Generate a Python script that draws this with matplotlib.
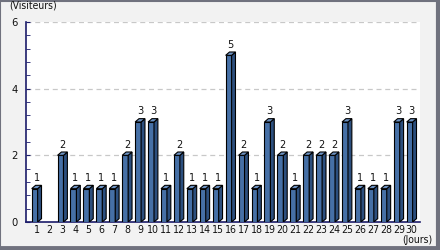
import matplotlib
matplotlib.use("Agg")
import matplotlib.pyplot as plt
from matplotlib.patches import Polygon, Rectangle
from matplotlib.lines import Line2D

days = list(range(1, 31))
visitors = [1, 0, 2, 1, 1, 1, 1, 2, 3, 3, 1, 2, 1, 1, 1, 5, 2, 1, 3, 2,
            1, 2, 2, 2, 3, 1, 1, 1, 3, 3]
y_ticks = [0, 2, 4, 6]

front_col = "#4670a6"
side_col = "#2c4f7e"
top_col = "#6d93c4"
axis_col = "#1c1c6a"

plt.rcParams['font.family'] = ['DejaVu Sans']
plt.rcParams['font.stretch'] = 'condensed'

fig = plt.figure(figsize=(4.4, 2.5), dpi=100, facecolor="#f2f2f2")
# outer frame: thin top/left, thicker right/bottom
frame = "#70727e"
fig.lines.append(Line2D([0, 1], [0.998, 0.998], transform=fig.transFigure, color=frame, lw=1.5))
fig.lines.append(Line2D([0.001, 0.001], [0, 1], transform=fig.transFigure, color=frame, lw=1.5))
fig.lines.append(Line2D([0.996, 0.996], [0, 1], transform=fig.transFigure, color=frame, lw=3))
fig.lines.append(Line2D([0, 1], [0.007, 0.007], transform=fig.transFigure, color=frame, lw=3.5))

ax = fig.add_axes([26 / 440, 28 / 250, 394 / 440, 200 / 250])
ax.set_xlim(0.17, 30.64)
ax.set_ylim(0, 6)

w = 0.46     # front width
dx = 0.3     # depth in x
dy = 0.1     # depth in y
for d, v in zip(days, visitors):
    if v == 0:
        continue
    x0 = d - 0.39
    ax.add_patch(Rectangle((x0, 0), w, v, facecolor=front_col,
                           edgecolor="black", linewidth=0.8, zorder=3))
    ax.add_patch(Polygon([(x0 + w, 0), (x0 + w + dx, dy), (x0 + w + dx, v + dy),
                          (x0 + w, v)], closed=True, facecolor=side_col,
                         edgecolor="black", linewidth=0.8, zorder=3))
    ax.add_patch(Polygon([(x0, v), (x0 + dx, v + dy), (x0 + w + dx, v + dy),
                          (x0 + w, v)], closed=True, facecolor=top_col,
                         edgecolor="black", linewidth=0.8, zorder=3))
    ax.text(d, v + 0.17, str(v), ha="center", va="bottom", fontsize=7.8,
            color="#111111", zorder=4)

for t in y_ticks[1:]:
    ax.axhline(t, color="#c8c8c8", linestyle=(0, (4, 3)), linewidth=0.9, zorder=1)

ax.set_yticks(y_ticks)
ax.set_yticks([i * 0.4 for i in range(16)], minor=True)
ax.set_xticks(days)
ax.set_xticklabels([str(d) for d in days])
ax.tick_params(axis="x", length=0, pad=2, labelsize=7.6, colors="#111111")
ax.tick_params(axis="y", which="both", direction="in", length=3,
               color=axis_col, labelsize=8, labelcolor="#111111", pad=6)

for s in ["top", "right"]:
    ax.spines[s].set_visible(False)
for s in ["left", "bottom"]:
    ax.spines[s].set_color(axis_col)
    ax.spines[s].set_linewidth(1.2)

fig.text(9 / 440, 1 - 5 / 250, "(Visiteurs)", fontsize=7.5, ha="left",
         va="center", color="#111111")
fig.text(417 / 440, 1 - 240 / 250, "(Jours)", fontsize=7.5, ha="center",
         va="center", color="#111111")

fig.savefig("out.png", dpi=100, facecolor=fig.get_facecolor())
